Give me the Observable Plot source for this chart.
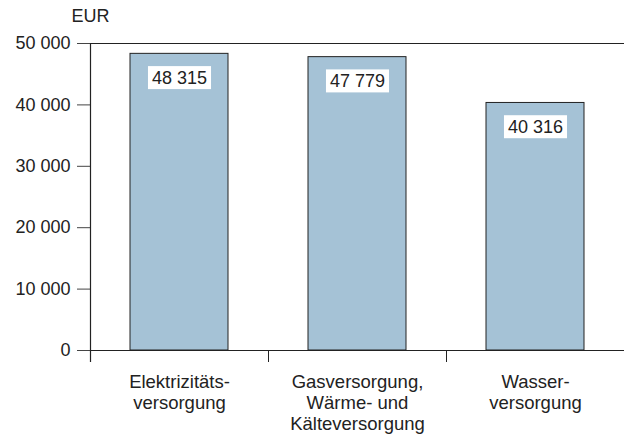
<!DOCTYPE html>
<html>
<head>
<meta charset="utf-8">
<script src="https://cdn.jsdelivr.net/npm/d3@7"></script>
<script src="https://cdn.jsdelivr.net/npm/@observablehq/plot@0.6"></script>
<style>
  html, body { margin: 0; padding: 0; background: #fff; }
  [aria-label^="y-axis"] line, [aria-label="y-axis tick"] path { stroke: #444; }
</style>
</head>
<body>
<div id="chart"></div>
<script>
const categories = ["Elektrizitätsversorgung", "Gasversorgung, Wärme- und Kälteversorgung", "Wasserversorgung"];
const categoryLabels = ["Elektrizitäts-\nversorgung", "Gasversorgung,\nWärme- und\nKälteversorgung", "Wasser-\nversorgung"];
const values = [48315, 47779, 40316];
const yTicks = [0, 10000, 20000, 30000, 40000, 50000];
const yUnit = "EUR";

const data = categories.map((c, i) => ({category: c, label: categoryLabels[i], value: values[i]}));
const fmt = d3.formatLocale({decimal: ",", thousands: "\u00a0", grouping: [3], currency: ["", " €"]}).format(",d");

const W = 624, H = 435, mL = 90, mR = 0, mT = 43, mB = 85;
const step = (W - mL - mR) / categories.length;
const plotH = H - mT - mB;
const ink = "#222";
const catFont = 18.5;

const svg = Plot.plot({
  width: W, height: H,
  marginLeft: mL, marginRight: mR, marginTop: mT, marginBottom: mB,
  style: {fontFamily: "'Liberation Sans', Arial, sans-serif", fontSize: "18px", color: ink, background: "#fff"},
  x: {axis: null, domain: categories, paddingInner: 0.45, paddingOuter: 0.225},
  y: {domain: [0, yTicks[yTicks.length - 1]], ticks: yTicks, tickFormat: fmt, tickSize: 13, tickPadding: 7, label: null},
  marks: [
    Plot.barY(data, {x: "category", y: "value", fill: "#a5c2d6", stroke: ink, strokeWidth: 1}),
    Plot.ruleY([0, yTicks[yTicks.length - 1]], {stroke: ink, strokeWidth: 1.2}),
    Plot.ruleX([categories[0]], {x: d => d, dx: -step / 2, insetBottom: -12, stroke: ink, strokeWidth: 1.2}),
    Plot.ruleX(categories.slice(1), {x: d => d, dx: -step / 2, insetTop: plotH, insetBottom: -12, stroke: ink, strokeWidth: 1}),
    Plot.text(data, {x: "category", text: "label", frameAnchor: "bottom", lineAnchor: "top", dy: 23, lineHeight: 21 / catFont, fill: ink, fontSize: catFont}),
    Plot.text(data, {x: "category", y: "value", text: d => fmt(d.value), dy: 24, lineAnchor: "middle", fill: ink}),
    Plot.text([yUnit], {frameAnchor: "top-left", text: d => d, dy: -27, lineAnchor: "middle", textAnchor: "middle", fill: ink})
  ]
});

document.getElementById("chart").appendChild(svg);

// white boxes behind value labels
const valueStrings = new Set(values.map(fmt));
svg.querySelectorAll("text").forEach(t => {
  if (!valueStrings.has(t.textContent)) return;
  const b = t.getBBox();
  const r = document.createElementNS("http://www.w3.org/2000/svg", "rect");
  const px = 4, py = 1.5;
  r.setAttribute("x", b.x - px);
  r.setAttribute("y", b.y - py);
  r.setAttribute("width", b.width + 2 * px);
  r.setAttribute("height", b.height + 2 * py);
  r.setAttribute("fill", "#fff");
  if (t.getAttribute("transform")) r.setAttribute("transform", t.getAttribute("transform"));
  t.parentNode.insertBefore(r, t);
});
</script>
</body>
</html>
